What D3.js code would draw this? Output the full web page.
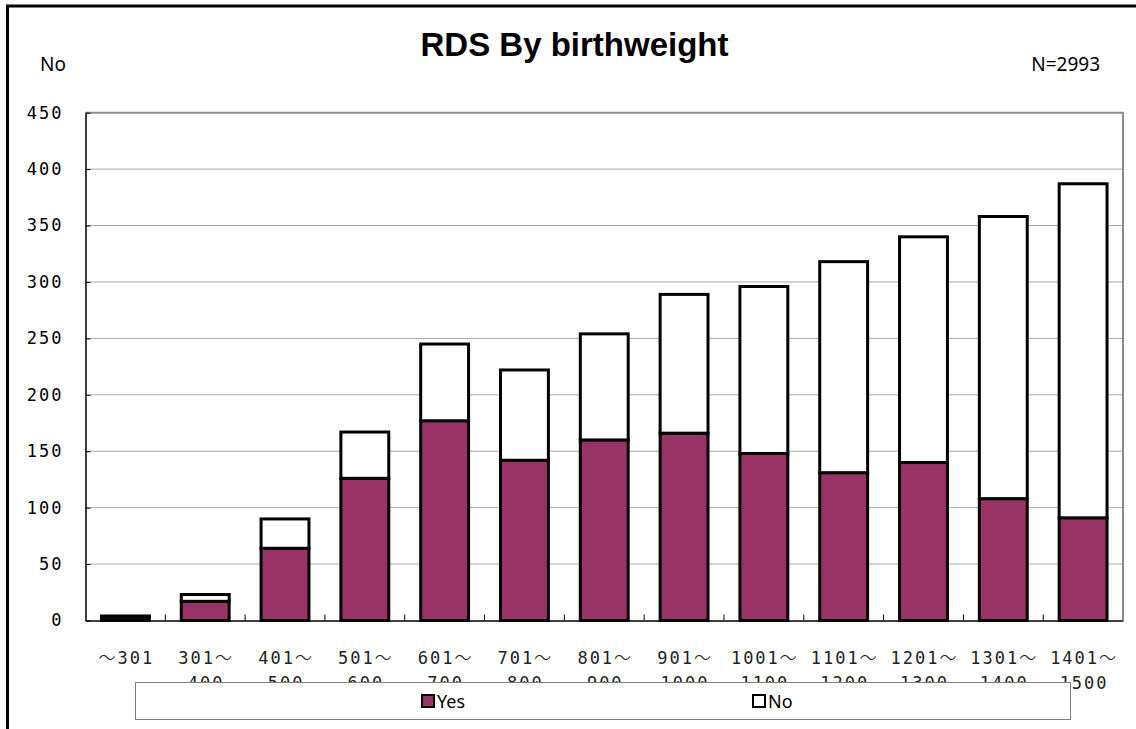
<!DOCTYPE html>
<html>
<head>
<meta charset="utf-8">
<script src="https://cdn.jsdelivr.net/npm/d3@7"></script>
<style>
  body { margin: 0; background: #fff; }
  svg { display: block; }
</style>
</head>
<body>
<script>
// data
const categories = ["～301", "301～|400", "401～|500", "501～|600", "601～|700", "701～|800",
  "801～|900", "901～|1000", "1001～|1100", "1101～|1200", "1201～|1300", "1301～|1400", "1401～|1500"];
const yesValues = [3, 17, 64, 126, 177, 142, 160, 166, 148, 131, 140, 108, 91];
const noValues = [1, 6, 26, 41, 68, 80, 94, 123, 148, 187, 200, 250, 296];
const seriesNames = ["Yes", "No"];
const seriesColors = ["#993366", "#ffffff"];
const yTicks = [0, 50, 100, 150, 200, 250, 300, 350, 400, 450];

const width = 1136, height = 729;
const plot = {left: 85.5, right: 1123, top: 112.7, bottom: 620.5};

const rows = categories.map((c, i) => ({cat: c, Yes: yesValues[i], No: noValues[i]}));
const stacked = d3.stack().keys(seriesNames)(rows);

const x = d3.scaleBand()
  .domain(categories)
  .range([plot.left, plot.right])
  .paddingInner(0.4)
  .paddingOuter(0.2);

const y = d3.scaleLinear()
  .domain([0, 450])
  .range([plot.bottom, plot.top]);

const color = d3.scaleOrdinal().domain(seriesNames).range(seriesColors);

const svg = d3.select("body").append("svg")
  .attr("width", width)
  .attr("height", height);

// outer chart frame (right / bottom edges fall off the picture)
svg.append("rect")
  .attr("x", 7.5).attr("y", 6)
  .attr("width", 1200).attr("height", 900)
  .attr("fill", "none")
  .attr("stroke", "#000")
  .attr("stroke-width", 3);

// title and corner labels
svg.append("text")
  .attr("x", 574.5).attr("y", 56)
  .attr("text-anchor", "middle")
  .attr("font-family", "Liberation Sans, Arial, sans-serif")
  .attr("font-weight", "bold")
  .attr("font-size", 33)
  .text("RDS By birthweight");

svg.append("text")
  .attr("x", 40).attr("y", 71)
  .attr("font-family", "Noto Sans, sans-serif")
  .attr("font-size", 19)
  .text("No");

svg.append("text")
  .attr("x", 1100).attr("y", 71)
  .attr("text-anchor", "end")
  .attr("font-family", "Noto Sans, sans-serif")
  .attr("font-size", 19)
  .text("N=2993");

// gridlines
svg.append("g")
  .selectAll("line")
  .data(yTicks.filter(d => d > 0 && d < 450))
  .join("line")
  .attr("x1", plot.left).attr("x2", plot.right)
  .attr("y1", d => y(d)).attr("y2", d => y(d))
  .attr("stroke", "#a8a8a8")
  .attr("stroke-width", 1);

// plot area border (top/right grey)
svg.append("path")
  .attr("d", `M${plot.left},${y(450)}H${plot.right}V${y(0)}`)
  .attr("fill", "none")
  .attr("stroke", "#8c8c8c")
  .attr("stroke-width", 2);

// bars
svg.append("g")
  .selectAll("g")
  .data(stacked)
  .join("g")
  .attr("fill", d => color(d.key))
  .selectAll("rect")
  .data(d => d)
  .join("rect")
  .attr("x", d => x(d.data.cat))
  .attr("width", x.bandwidth())
  .attr("y", d => y(d[1]))
  .attr("height", d => y(d[0]) - y(d[1]))
  .attr("stroke", "#000")
  .attr("stroke-width", 3);

// y axis
const yAxis = svg.append("g")
  .attr("transform", `translate(${plot.left},0)`)
  .call(d3.axisLeft(y).tickValues(yTicks).tickSize(-5).tickSizeOuter(0).tickPadding(22));
yAxis.select(".domain").attr("stroke", "#000").attr("stroke-width", 1.5);
yAxis.selectAll(".tick line").attr("stroke", "#000");
yAxis.selectAll(".tick text")
  .attr("font-family", "DejaVu Sans Mono, monospace")
  .attr("font-size", 17)
  .attr("letter-spacing", 2)
  .attr("fill", "#000");

// x axis
const xAxis = svg.append("g")
  .attr("transform", `translate(0,${plot.bottom})`)
  .call(d3.axisBottom(x).tickSize(0).tickSizeOuter(0).tickPadding(0));
xAxis.select(".domain").attr("stroke", "#000").attr("stroke-width", 1.5);
xAxis.selectAll(".tick text")
  .attr("y", null).attr("dy", null)
  .attr("font-family", "DejaVu Sans Mono, monospace")
  .attr("font-size", 17)
  .attr("letter-spacing", 2)
  .attr("fill", "#222")
  .text(null)
  .each(function(d) {
    const t = d3.select(this);
    d.split("|").forEach((line, i) => {
      line.split(/(～)/).filter(s => s).forEach((part, j) => {
        const sp = t.append("tspan").text(part);
        if (j === 0) sp.attr("x", 1).attr("y", 43 + i * 25);
        if (part === "～") sp.attr("font-family", "Noto Sans CJK JP, sans-serif").attr("font-weight", 300);
      });
    });
  });

// category boundary ticks (inside)
const gap = (x.step() - x.bandwidth()) / 2;
svg.append("g")
  .selectAll("line")
  .data(categories.slice(1))
  .join("line")
  .attr("x1", d => x(d) - gap).attr("x2", d => x(d) - gap)
  .attr("y1", plot.bottom).attr("y2", plot.bottom - 6)
  .attr("stroke", "#000")
  .attr("stroke-width", 1);

// legend
const legend = svg.append("g");
legend.append("rect")
  .attr("x", 135.5).attr("y", 682.5)
  .attr("width", 935).attr("height", 37)
  .attr("fill", "#fff")
  .attr("stroke", "#808080")
  .attr("stroke-width", 1);

const legendX = [422, 753];
const items = legend.selectAll("g.item")
  .data(seriesNames)
  .join("g")
  .attr("class", "item")
  .attr("transform", (d, i) => `translate(${legendX[i]},695)`);
items.append("rect")
  .attr("width", 12).attr("height", 12)
  .attr("fill", d => color(d))
  .attr("stroke", "#000")
  .attr("stroke-width", 2);
items.append("text")
  .attr("x", 15).attr("y", 13)
  .attr("font-family", "Noto Sans, sans-serif")
  .attr("font-size", 18)
  .text(d => d);
</script>
</body>
</html>
